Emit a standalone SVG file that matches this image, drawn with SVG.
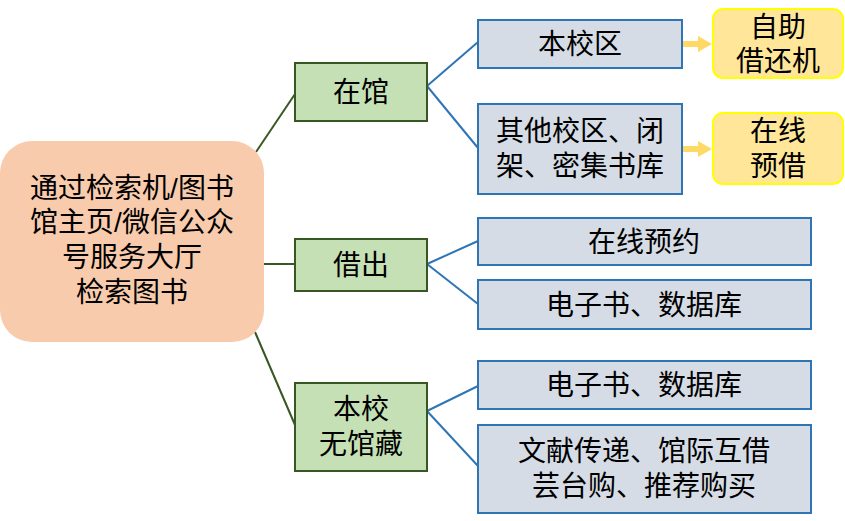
<svg xmlns="http://www.w3.org/2000/svg" width="845" height="521" viewBox="0 0 845 521">
<defs>
<style>
text{font-family:"Liberation Sans","Noto Sans CJK SC",sans-serif;font-size:28px;fill:#000;text-anchor:middle;dominant-baseline:central}
.root{fill:#F8CBAD}
.g{fill:#C5E0B4;stroke:#385723;stroke-width:2}
.b{fill:#D6DCE5;stroke:#2E75B6;stroke-width:2}
.y{fill:#FFE699;stroke:#FFFF00;stroke-width:2}
.lg{stroke:#385723;stroke-width:2;fill:none}
.lb{stroke:#2E75B6;stroke-width:2;fill:none}
.ar{stroke:#FFD966;stroke-width:6;fill:none}
</style>
<marker id="ah" markerWidth="14" markerHeight="16" refX="0" refY="8" orient="auto" markerUnits="userSpaceOnUse">
<path d="M0,0 L14,8 L0,16 Z" fill="#FFD966"/>
</marker>
</defs>
<g id="connectors">
<line class="lg" x1="256" y1="152" x2="295" y2="94"/>
<line class="lg" x1="264" y1="264" x2="295" y2="264"/>
<line class="lg" x1="255" y1="332" x2="295" y2="425"/>
<line class="lb" x1="427" y1="86" x2="478" y2="42"/>
<line class="lb" x1="427" y1="86" x2="478" y2="148"/>
<line class="lb" x1="427" y1="264" x2="478" y2="241"/>
<line class="lb" x1="427" y1="264" x2="478" y2="304"/>
<line class="lb" x1="427" y1="411" x2="478" y2="386"/>
<line class="lb" x1="427" y1="411" x2="478" y2="466"/>
<line class="ar" x1="683" y1="44" x2="698" y2="44" marker-end="url(#ah)"/>
<line class="ar" x1="683" y1="149" x2="698" y2="149" marker-end="url(#ah)"/>
</g>
<g id="root">
<rect class="root" x="0" y="141" width="264" height="201" rx="32"/>
<text x="132" y="188">通过检索机/图书</text>
<text x="132" y="222">馆主页/微信公众</text>
<text x="132" y="257">号服务大厅</text>
<text x="132" y="292">检索图书</text>
</g>
<g id="zaiguan">
<rect class="g" x="295" y="63" width="132" height="58"/>
<text x="361" y="92">在馆</text>
</g>
<g id="jiechu">
<rect class="g" x="295" y="239" width="132" height="52"/>
<text x="361" y="265">借出</text>
</g>
<g id="wuguancang">
<rect class="g" x="295" y="383" width="132" height="88"/>
<text x="361" y="409">本校</text>
<text x="361" y="444">无馆藏</text>
</g>
<g id="benxiaoqu">
<rect class="b" x="478" y="20" width="204" height="48"/>
<text x="580" y="44">本校区</text>
</g>
<g id="qita">
<rect class="b" x="478" y="104" width="204" height="90"/>
<text x="580" y="131">其他校区、闭</text>
<text x="580" y="166">架、密集书库</text>
</g>
<g id="zaixianyuyue">
<rect class="b" x="478" y="218" width="333" height="47"/>
<text x="644" y="242">在线预约</text>
</g>
<g id="dianzi1">
<rect class="b" x="478" y="280" width="333" height="49"/>
<text x="644" y="305">电子书、数据库</text>
</g>
<g id="dianzi2">
<rect class="b" x="478" y="361" width="333" height="48"/>
<text x="644" y="385">电子书、数据库</text>
</g>
<g id="wenxian">
<rect class="b" x="478" y="425" width="333" height="88"/>
<text x="644" y="451">文献传递、馆际互借</text>
<text x="644" y="486">芸台购、推荐购买</text>
</g>
<g id="zizhu">
<rect class="y" x="713" y="9" width="130" height="69" rx="10"/>
<text x="778" y="27">自助</text>
<text x="778" y="61">借还机</text>
</g>
<g id="zaixianyujie">
<rect class="y" x="713" y="113" width="130" height="71" rx="10"/>
<text x="778" y="131">在线</text>
<text x="778" y="166">预借</text>
</g>
</svg>
